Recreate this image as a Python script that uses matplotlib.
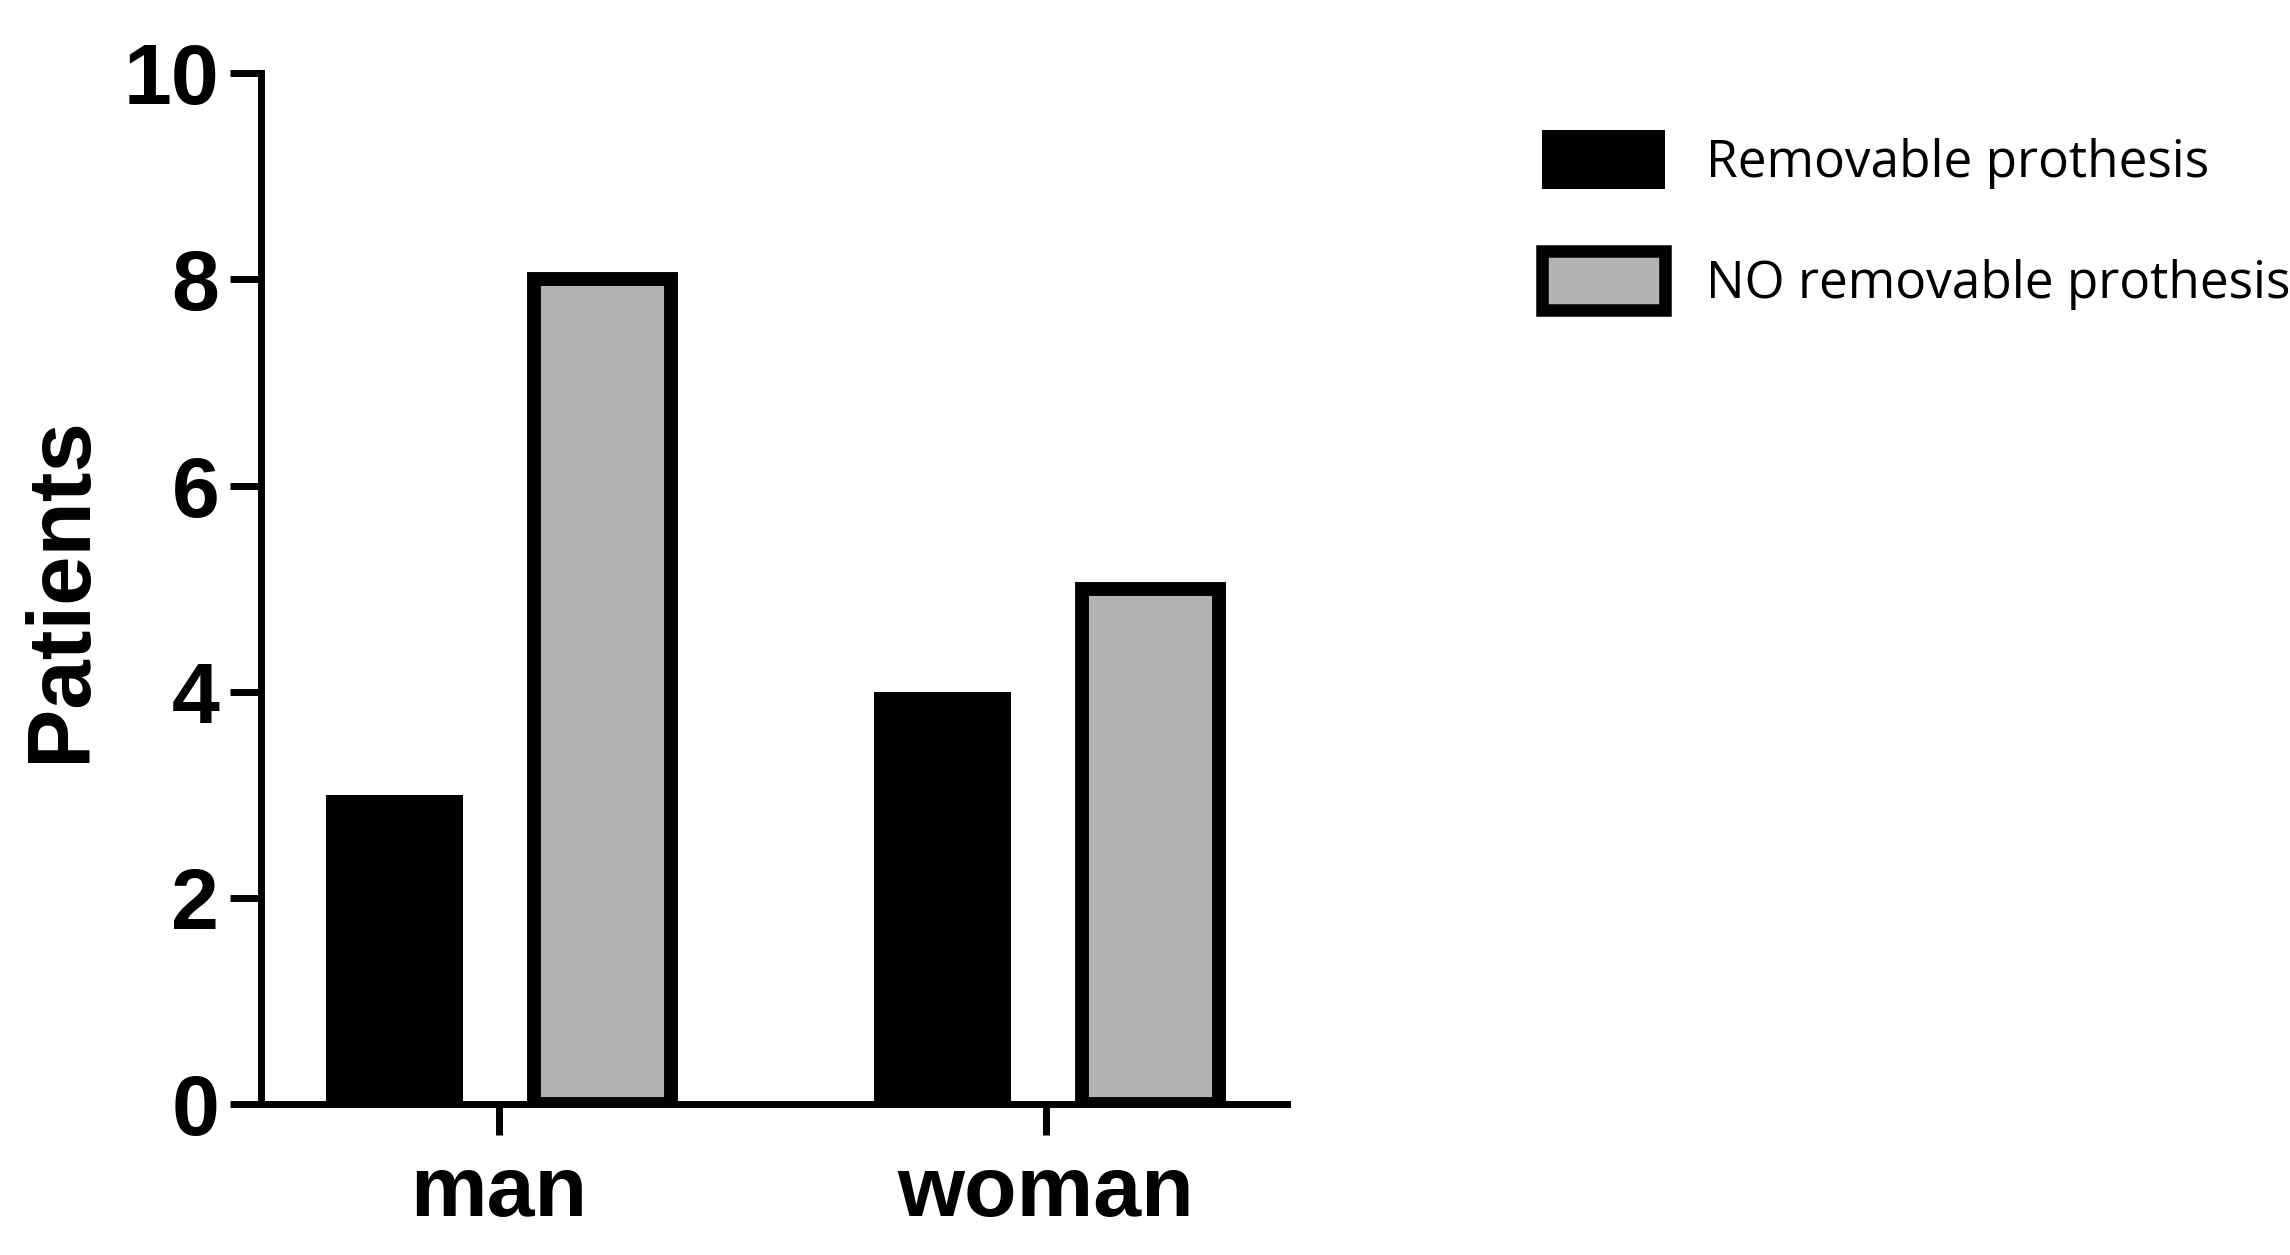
import matplotlib
matplotlib.use("Agg")
import matplotlib.pyplot as plt
from matplotlib.patches import Patch
import numpy as np

categories = ["man", "woman"]
removable = [3, 4]
no_removable = [8, 5]
series_labels = ["Removable prothesis", "NO removable prothesis"]

fig = plt.figure(figsize=(22.9, 12.55), dpi=100)
ax = fig.add_axes([0.114, 0.1205, 0.448, 0.821])
x = np.arange(len(categories))
w = 0.25
ax.bar(x - 0.19, removable, w, color="black", edgecolor="black", linewidth=0)
ax.bar(x + 0.19, no_removable, w, color="#b3b3b3", edgecolor="black", linewidth=10)

ax.set_xlim(-0.434, 1.44)
ax.set_ylim(0, 10)
ax.set_yticks([0, 2, 4, 6, 8, 10])
ax.set_xticks(x)
ax.set_xticklabels(categories)
for s in ["top", "right"]:
    ax.spines[s].set_visible(False)
for s in ["left", "bottom"]:
    ax.spines[s].set_linewidth(5)
ax.tick_params(width=5, length=22, labelsize=62, pad=8)
ax.tick_params(axis="x", pad=14)
for lab in ax.get_xticklabels() + ax.get_yticklabels():
    lab.set_fontweight("bold")
    lab.set_family("Liberation Sans")
ax.set_ylabel("Patients", fontsize=64, fontweight="bold", family="Liberation Sans", labelpad=14)

handles = [Patch(facecolor="black", edgecolor="black", linewidth=0),
           Patch(facecolor="#b3b3b3", edgecolor="black", linewidth=9)]
fig.legend(handles, series_labels, loc="upper left", bbox_to_anchor=(0.662, 0.917),
           frameon=False, prop={"family": "Open Sans", "size": 37},
           handlelength=2.4, handleheight=1.4, labelspacing=1.2, handletextpad=0.8, borderpad=0)
fig.savefig("out.png", dpi=100)
